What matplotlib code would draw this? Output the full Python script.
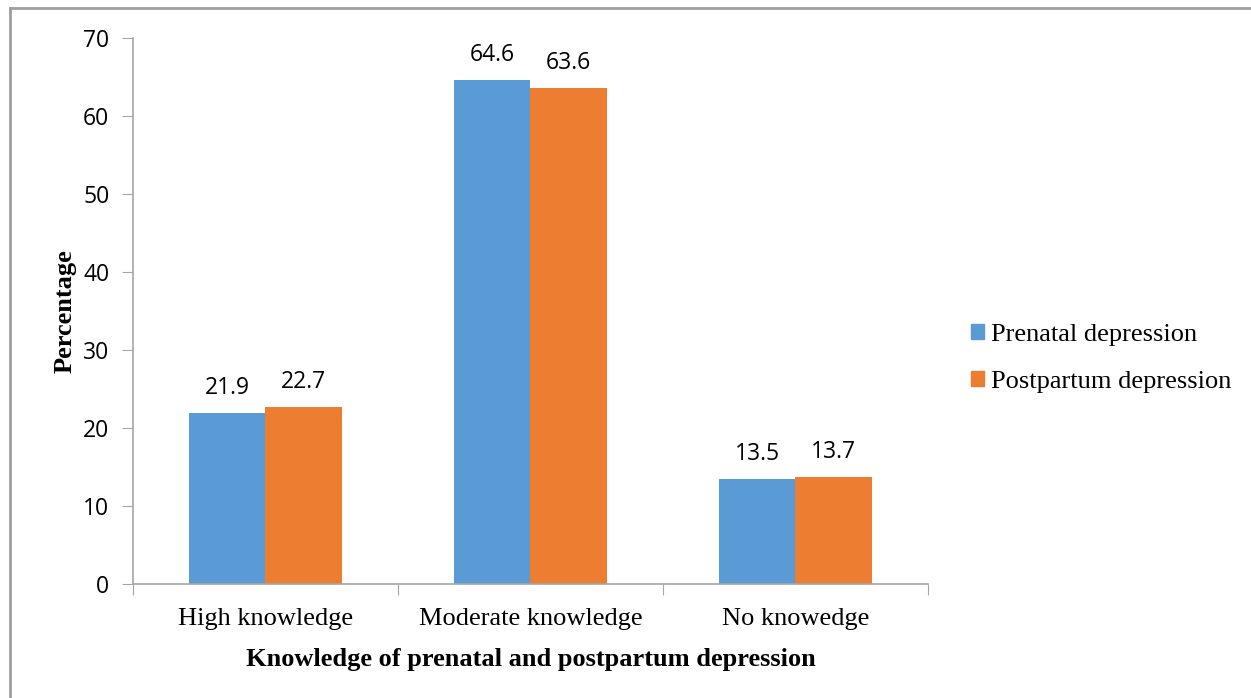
import matplotlib.pyplot as plt
import numpy as np
from matplotlib.lines import Line2D
from matplotlib.patches import Patch

categories = ["High knowledge", "Moderate knowledge", "No knowedge"]
prenatal = [21.9, 64.6, 13.5]
postpartum = [22.7, 63.6, 13.7]
series_names = ["Prenatal depression", "Postpartum depression"]
y_ticks = [0, 10, 20, 30, 40, 50, 60, 70]

BLUE = "#5B9BD5"
ORANGE = "#ED7D31"
AXIS_GREY = "#A6A6A6"
SANS = ["Open Sans", "DejaVu Sans"]
SERIF = ["Liberation Serif", "DejaVu Serif"]

fig = plt.figure(figsize=(12.51, 6.98), dpi=100)
ax = fig.add_axes([0.1063, 0.1633, 0.6355, 0.7823])

x = np.arange(len(categories))
w = 0.287
b1 = ax.bar(x - w / 2, prenatal, width=w, color=BLUE)
b2 = ax.bar(x + w / 2, postpartum, width=w, color=ORANGE)

for bars, vals in ((b1, prenatal), (b2, postpartum)):
    for rect, v in zip(bars, vals):
        ax.annotate(f"{v}", (rect.get_x() + rect.get_width() / 2, v),
                    xytext=(0, 9.5), textcoords="offset points",
                    ha="center", va="bottom", fontsize=16.5, family=SANS)

ax.set_xlim(-0.5, len(categories) - 0.5)
ax.set_ylim(0, 70)
ax.set_yticks(y_ticks)
ax.set_yticklabels([str(t) for t in y_ticks], family=SANS, fontsize=16.5)

# category labels centred, ticks at the category boundaries
ax.set_xticks(np.arange(len(categories) + 1) - 0.5)
ax.set_xticklabels([])
ax.set_xticks(x, minor=True)
ax.set_xticklabels(categories, minor=True, family=SERIF, fontsize=19)
ax.tick_params(axis="x", which="minor", length=0, pad=17)
ax.tick_params(axis="x", which="major", length=8, color=AXIS_GREY, direction="out")
ax.tick_params(axis="y", length=8, color=AXIS_GREY, direction="out", pad=9)

for side in ("top", "right"):
    ax.spines[side].set_visible(False)
for side in ("left", "bottom"):
    ax.spines[side].set_color(AXIS_GREY)
    ax.spines[side].set_linewidth(1.2)

ax.set_xlabel("Knowledge of prenatal and postpartum depression",
              family=SERIF, fontsize=19, fontweight="bold", labelpad=13)
ax.set_ylabel("Percentage", family=SERIF, fontsize=19, fontweight="bold",
              labelpad=5)

handles = [Patch(color=BLUE), Patch(color=ORANGE)]
fig.legend(handles, series_names, loc="center left",
           bbox_to_anchor=(0.757, 0.487), frameon=False,
           prop={"family": SERIF, "size": 19},
           handlelength=0.5, handleheight=0.5, handletextpad=0.25,
           labelspacing=0.95)

# chart-area border (top and left edges)
fig.add_artist(Line2D([0.008, 1.0], [0.989, 0.989], color="#9E9E9E", lw=2,
                      transform=fig.transFigure))
fig.add_artist(Line2D([0.008, 0.008], [0.0, 0.989], color="#9E9E9E", lw=2,
                      transform=fig.transFigure))

fig.savefig("out.png", dpi=100)
